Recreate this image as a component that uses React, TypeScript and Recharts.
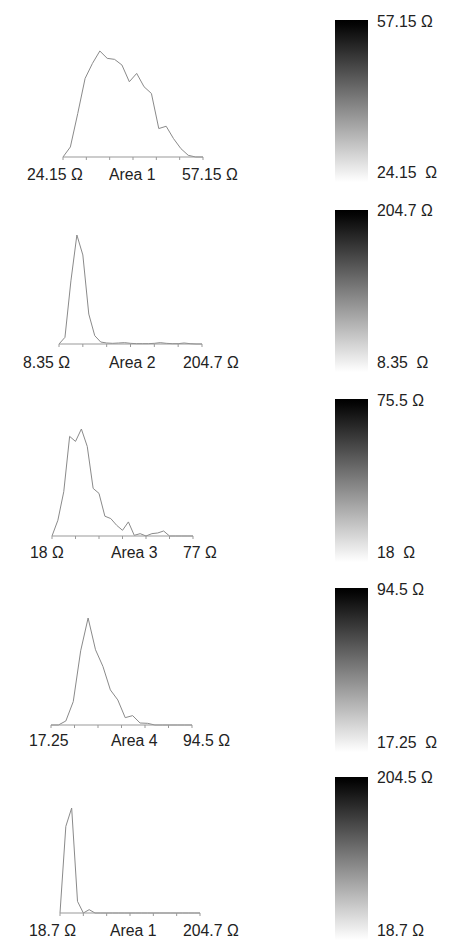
import React from 'react';
import { LineChart, Line, XAxis, YAxis } from 'recharts';

// histogram counts per area (relative heights)
const AREA1_COUNTS = [0, 30, 130, 235, 280, 317, 295, 292, 275, 225, 250, 210, 190, 85, 92, 55, 25, 5, 0, 0];
const AREA2_COUNTS = [0, 20, 190, 328, 268, 90, 25, 6, 3, 2, 3, 4, 2, 1, 1, 1, 2, 4, 2, 1, 1, 3, 1, 0, 0];
const AREA3_COUNTS = [0, 47, 132, 297, 282, 319, 267, 142, 127, 59, 52, 32, 17, 42, 2, 7, 0, 7, 9, 15, 0, 0, 0, 0, 0];
const AREA4_COUNTS = [0, 0, 12, 70, 222, 320, 225, 175, 105, 75, 22, 28, 6, 5, 0, 0, 0, 0, 0, 0];
const AREA5_COUNTS = [0, 260, 315, 35, 0, 10, 0, 0, 0, 0, 0, 0, 0, 0, 0, 0, 0, 0, 0, 0, 0, 0, 0, 0, 0];

const AREA_NAMES = ['Area 1', 'Area 2', 'Area 3', 'Area 4', 'Area 1'];
const MIN_LABELS = ['24.15 Ω', '8.35 Ω', '18 Ω', '17.25', '18.7 Ω'];
const MAX_LABELS = ['57.15 Ω', '204.7 Ω', '77 Ω', '94.5 Ω', '204.7 Ω'];
const BAR_MAX = ['57.15 Ω', '204.7 Ω', '75.5 Ω', '94.5 Ω', '204.5 Ω'];
const BAR_MIN = ['24.15  Ω', '8.35  Ω', '18  Ω', '17.25  Ω', '18.7 Ω'];

const COUNTS = [AREA1_COUNTS, AREA2_COUNTS, AREA3_COUNTS, AREA4_COUNTS, AREA5_COUNTS];

// layout (pixels)
const PLOTS = [
  { x: 63, y: 51, w: 140, h: 106 },
  { x: 59, y: 235, w: 143, h: 109 },
  { x: 52, y: 429, w: 141, h: 107 },
  { x: 51, y: 618, w: 141, h: 107 },
  { x: 60, y: 808, w: 140, h: 105 },
];
const LABEL_X = [
  [27, 109, 182],
  [23, 109, 183],
  [30, 111, 183],
  [29, 111, 183],
  [29, 110, 183],
];
const LABEL_BASE = [180, 368, 558, 746.5, 936];
const BARS = [
  { y: 20, h: 162, top: 27, bottom: 178 },
  { y: 210, h: 162, top: 216.5, bottom: 368 },
  { y: 399, h: 163, top: 406, bottom: 558 },
  { y: 588, h: 164, top: 595, bottom: 748 },
  { y: 777, h: 163, top: 783, bottom: 936.5 },
];

const FONT = '"Liberation Sans", Arial, sans-serif';
const FS = 15.8;
const PAD = 2;

const Txt = ({ x, base, children }: { x: number; base: number; children: React.ReactNode }) => (
  <span
    style={{
      position: 'absolute',
      left: x,
      top: base - 13.4,
      fontSize: FS,
      lineHeight: `${FS}px`,
      fontFamily: FONT,
      color: '#222',
      whiteSpace: 'pre',
    }}
  >
    {children}
  </span>
);

const Histogram = ({ counts, box }: { counts: number[]; box: { x: number; y: number; w: number; h: number } }) => {
  const data = counts.map((c, i) => ({ bin: i, count: c }));
  const n = counts.length - 1;
  const ticks = [0, 1, 2, 3, 4, 5, 6].map((k) => (n * k) / 6);
  return (
    <div style={{ position: 'absolute', left: box.x - PAD, top: box.y - PAD }}>
      <LineChart
        width={box.w + PAD * 2}
        height={box.h + PAD + 6}
        data={data}
        margin={{ top: PAD, right: PAD, left: PAD, bottom: 0 }}
      >
        <XAxis
          dataKey="bin"
          type="number"
          domain={[0, n]}
          ticks={ticks}
          interval={0}
          tickFormatter={() => ''}
          tickSize={3}
          height={6}
          stroke="#999"
        />
        <YAxis hide domain={[0, 'dataMax']} />
        <Line type="linear" dataKey="count" stroke="#8a8a8a" strokeWidth={1} dot={false} isAnimationActive={false} />
      </LineChart>
    </div>
  );
};

export default function App() {
  return (
    <div style={{ position: 'absolute', left: 0, top: 0, width: 472, height: 942, background: '#fff', overflow: 'hidden' }}>
      {COUNTS.map((counts, i) => (
        <React.Fragment key={i}>
          <Histogram counts={counts} box={PLOTS[i]} />
          <Txt x={LABEL_X[i][0]} base={LABEL_BASE[i]}>{MIN_LABELS[i]}</Txt>
          <Txt x={LABEL_X[i][1]} base={LABEL_BASE[i]}>{AREA_NAMES[i]}</Txt>
          <Txt x={LABEL_X[i][2]} base={LABEL_BASE[i]}>{MAX_LABELS[i]}</Txt>
          <div
            style={{
              position: 'absolute',
              left: 335,
              top: BARS[i].y,
              width: 33,
              height: BARS[i].h,
              background: 'linear-gradient(to bottom, #000 0%, #050505 3%, #fff 100%)',
            }}
          />
          <Txt x={377} base={BARS[i].top}>{BAR_MAX[i]}</Txt>
          <Txt x={377} base={BARS[i].bottom}>{BAR_MIN[i]}</Txt>
        </React.Fragment>
      ))}
    </div>
  );
}
